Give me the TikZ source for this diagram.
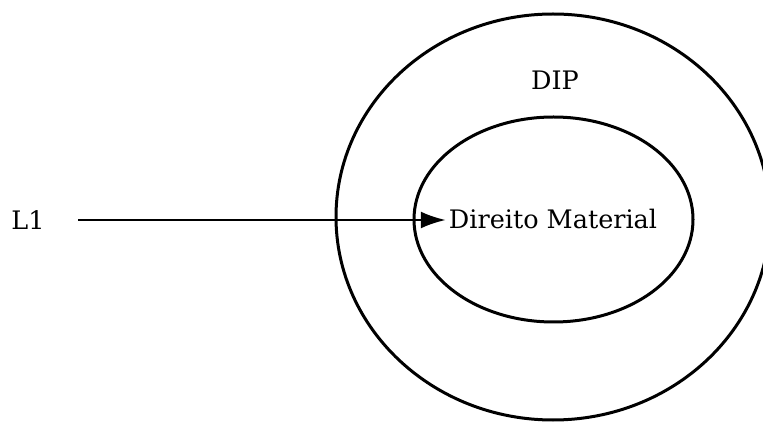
\documentclass[tikz,border=0pt]{standalone}
\usepackage{fontspec}
\setmainfont{DejaVu Serif}
\usetikzlibrary{arrows.meta,shapes.geometric}
\tikzset{
  ring/.style={draw=black, line width=3pt, ellipse, inner sep=0pt},
  label text/.style={font=\fontsize{25.5}{30}\selectfont, inner sep=3pt, anchor=base},
  link/.style={draw=black, line width=2.2pt, -{Latex[length=25pt,width=17pt]}}
}
\begin{document}
\begin{tikzpicture}[x=1pt,y=1pt]
  \useasboundingbox (0,0) rectangle (763,423);
  \clip (0,0) rectangle (763,423);
  % nested domains
  \node[ring, minimum width=434pt, minimum height=406pt] (outer) at (553,206) {};
  \node[ring, minimum width=279pt, minimum height=205pt] (inner) at (553.5,203.5) {};
  % labels
  \node[label text] (dip) at (555,333) {DIP};
  \node[label text] (dm) at (553,194) {Direito Material};
  \node[label text] (l1) at (28,193) {L1};
  % arrow from L1 into the inner domain
  \coordinate (start) at (78,203);
  \draw[link] (start) -- (start -| dm.west);
\end{tikzpicture}
\end{document}
